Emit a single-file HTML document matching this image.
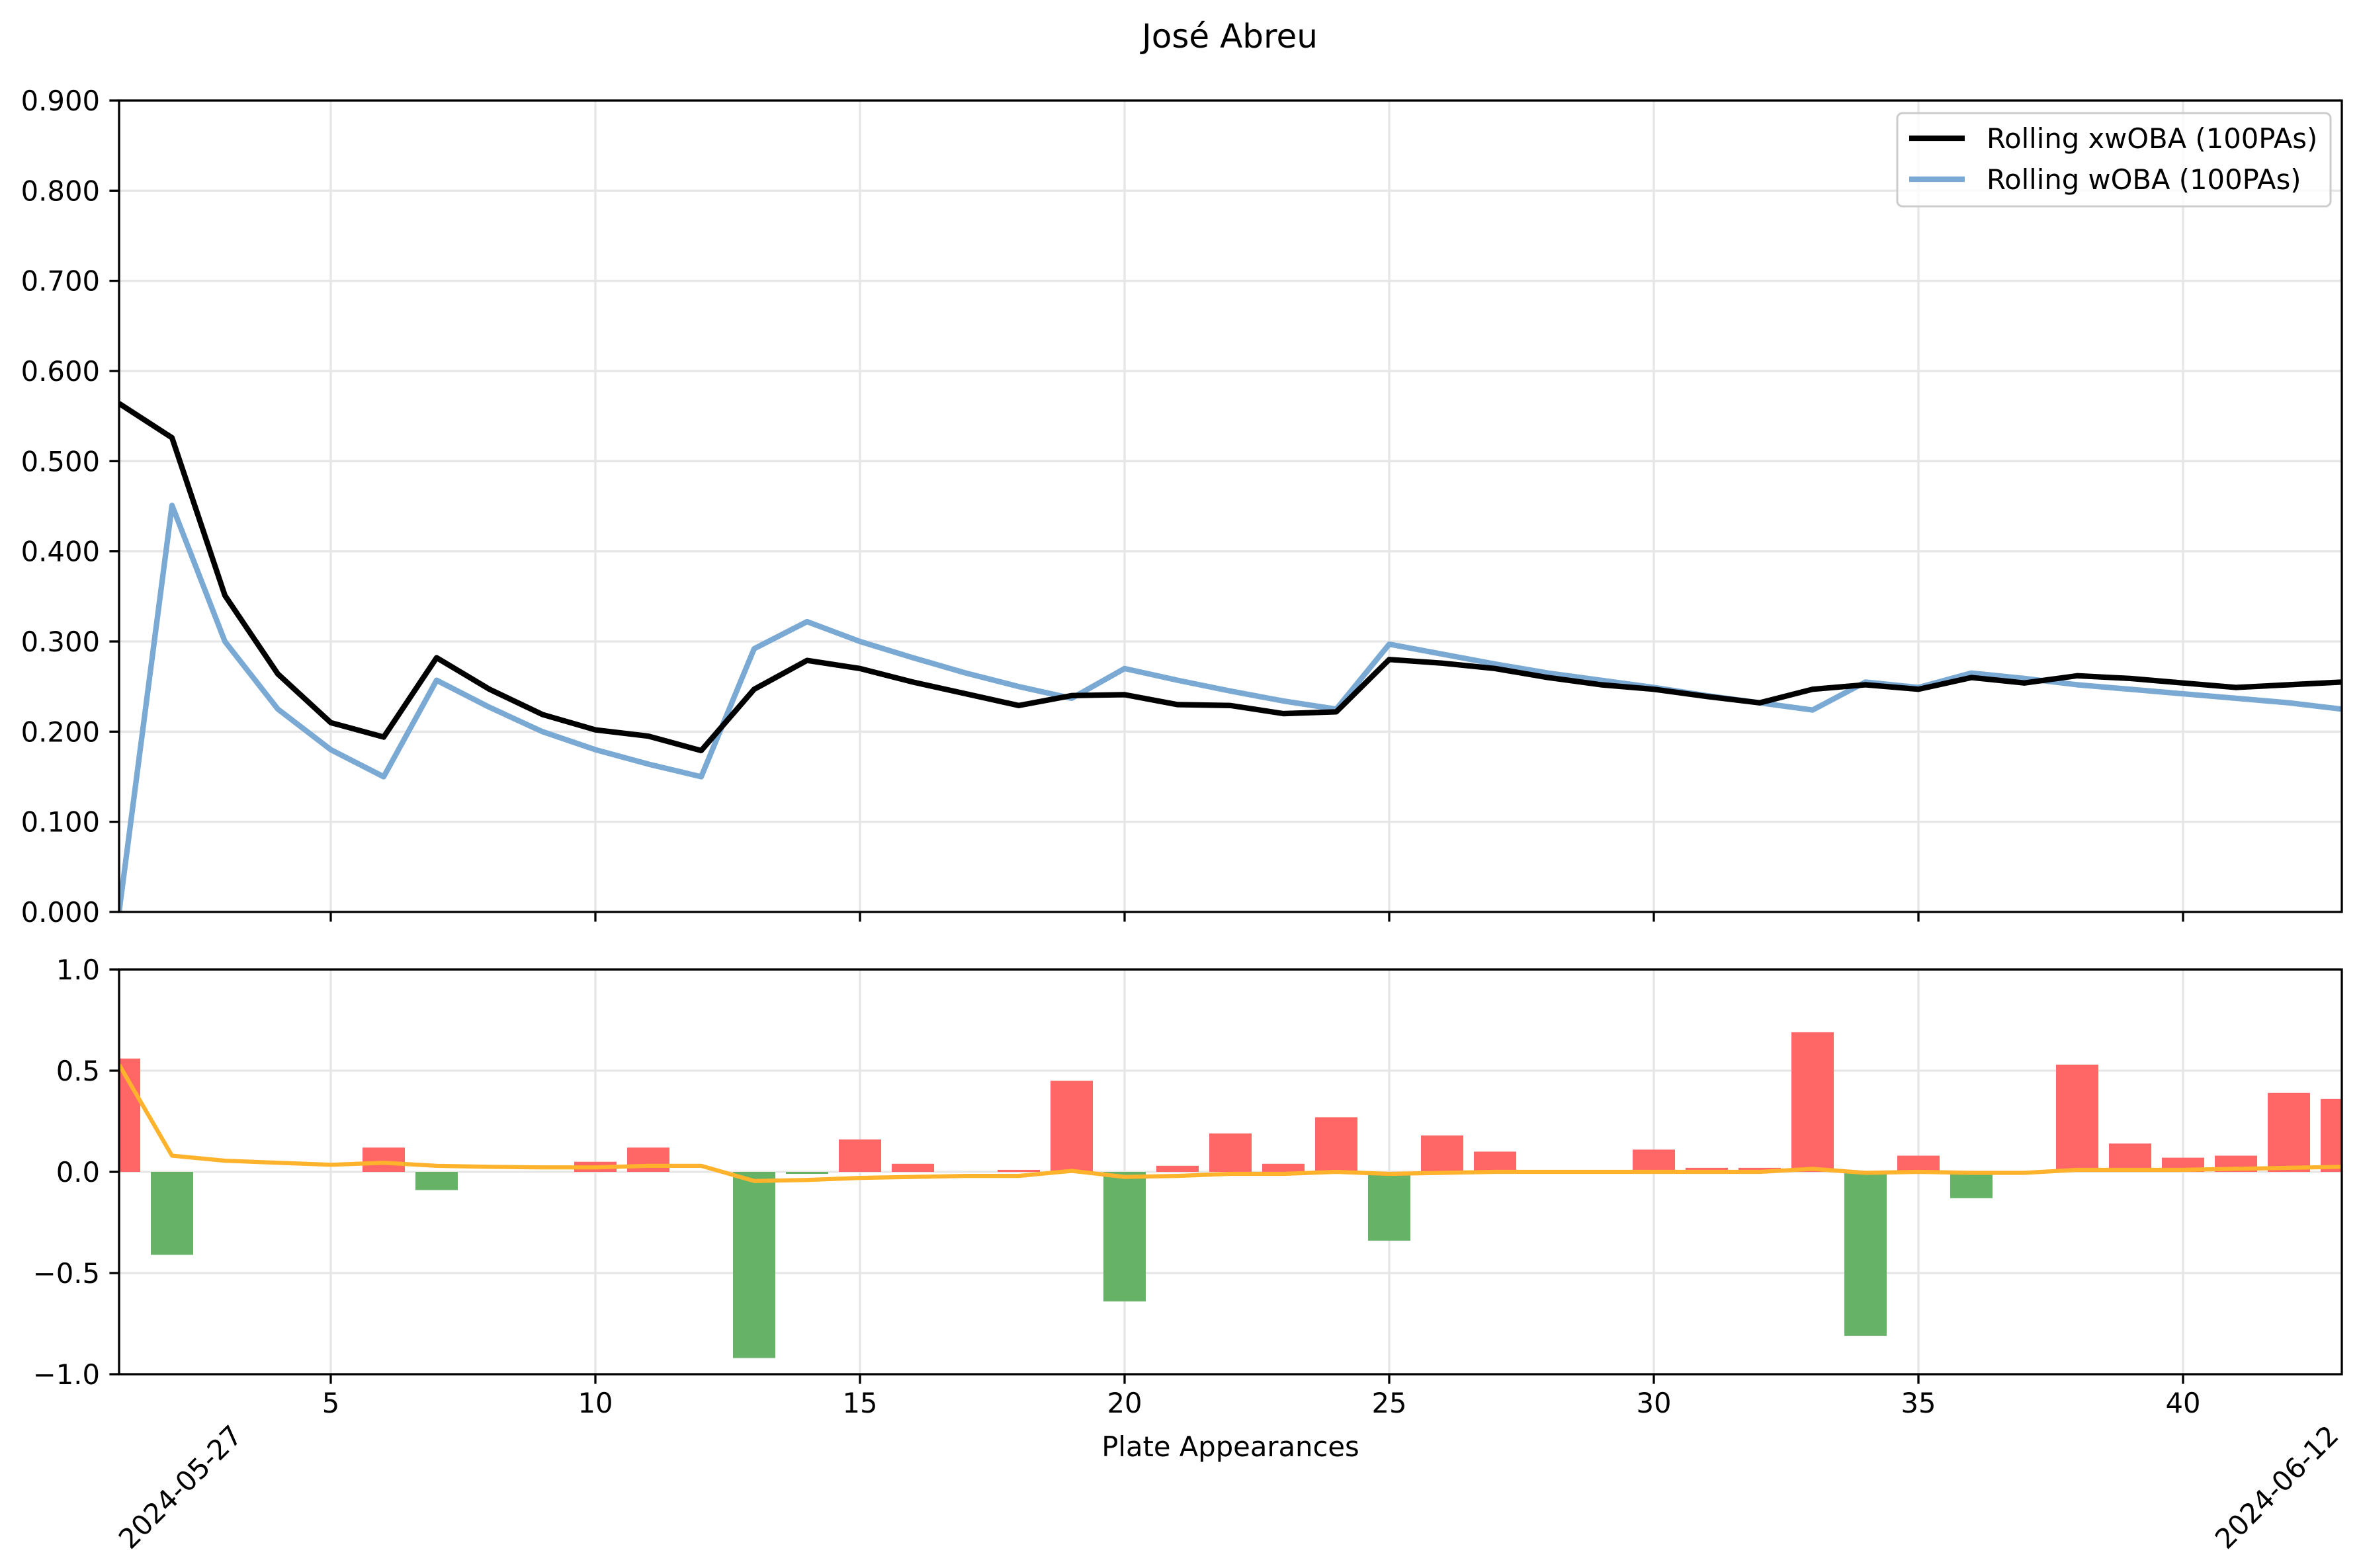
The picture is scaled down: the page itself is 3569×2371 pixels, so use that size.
<!DOCTYPE html>
<html><head><meta charset="utf-8"><style>html,body{margin:0;padding:0;background:#fff}svg{display:block}text{font-family:"DejaVu Sans","Liberation Sans",sans-serif;fill:#000}</style></head>
<body>
<svg id="chart" width="3569" height="2371" viewBox="0 0 3569 2371" xmlns="http://www.w3.org/2000/svg">
<rect width="3569" height="2371" fill="#fff"/>
<text x="1859" y="72" font-size="50" text-anchor="middle">José Abreu</text>
<g id="topG"></g><g id="botG"></g>
<text x="1860" y="2202" font-size="41.7" text-anchor="middle">Plate Appearances</text>
<text x="273" y="2263" font-size="41.7" text-anchor="middle" transform="rotate(-45 273 2249)">2024-05-27</text>
<text x="3442" y="2263" font-size="41.7" text-anchor="middle" transform="rotate(-45 3442 2249)">2024-06-12</text>
<g>
<rect x="2868" y="171" width="655" height="141" rx="8" fill="#fff" fill-opacity="0.8" stroke="#ccc" stroke-width="3"/>
<line x1="2886" y1="209" x2="2970" y2="209" stroke="#000" stroke-width="8.3"/>
<text x="3003" y="224" font-size="41.7">Rolling xwOBA (100PAs)</text>
<line x1="2886" y1="271" x2="2970" y2="271" stroke="#7aa9d4" stroke-width="8.3"/>
<text x="3003" y="286" font-size="41.7">Rolling wOBA (100PAs)</text>
</g>
</svg>
<script>
const pas = Array.from({length:43},(_,i)=>i+1);
const xwoba = [0.564,0.526,0.351,0.264,0.210,0.194,0.282,0.247,0.219,0.202,0.195,0.179,0.247,0.279,0.270,0.255,0.242,0.229,0.240,0.241,0.230,0.229,0.220,0.222,0.280,0.276,0.270,0.260,0.252,0.247,0.239,0.232,0.247,0.252,0.247,0.260,0.254,0.262,0.259,0.254,0.249,0.252,0.255];
const woba = [0.000,0.451,0.300,0.225,0.180,0.150,0.257,0.227,0.200,0.180,0.164,0.150,0.292,0.322,0.300,0.282,0.265,0.250,0.237,0.270,0.257,0.245,0.234,0.225,0.297,0.286,0.275,0.265,0.257,0.249,0.240,0.232,0.224,0.255,0.249,0.265,0.259,0.252,0.247,0.242,0.237,0.232,0.225];
const diffs = [0.56,-0.41,0,0,0,0.12,-0.09,0,0,0.05,0.12,0,-0.92,-0.01,0.16,0.04,0,0.01,0.45,-0.64,0.03,0.19,0.04,0.27,-0.34,0.18,0.10,0,0,0.11,0.02,0.02,0.69,-0.81,0.08,-0.13,0,0.53,0.14,0.07,0.08,0.39,0.36];
const trend = [0.53,0.08,0.055,0.045,0.035,0.045,0.03,0.025,0.022,0.022,0.03,0.03,-0.045,-0.04,-0.03,-0.025,-0.02,-0.02,0.005,-0.025,-0.02,-0.01,-0.01,0,-0.01,-0.005,0,0,0,0,0,0,0.015,-0.005,0,-0.005,-0.005,0.01,0.01,0.01,0.015,0.02,0.025];
const xTicks = [5,10,15,20,25,30,35,40];
const topTicks = [0,0.1,0.2,0.3,0.4,0.5,0.6,0.7,0.8,0.9];
const botTicks = [-1,-0.5,0,0.5,1];
const botTickLabels = ["\u22121.0","\u22120.5","0.0","0.5","1.0"];

const NS="http://www.w3.org/2000/svg";
const L=180,R=3540,T1=152,B1=1379,T2=1466,B2=2078;
const FS=41.7, TL=14.6, SW=3.3, GW=3.3;
const X=v=>L+(v-1)/(42)*(R-L);
const Y1=v=>B1-v/0.9*(B1-T1);
const Y2=v=>T2+(1-v)/2*(B2-T2);
function mk(p,tag,a){const e=document.createElementNS(NS,tag);for(const k in a)e.setAttribute(k,a[k]);p.appendChild(e);return e;}
const topG=document.getElementById('topG'),botG=document.getElementById('botG');
const cp=mk(document.getElementById('chart'),'defs',{});
const c1=mk(cp,'clipPath',{id:'c1'});mk(c1,'rect',{x:L,y:T1,width:R-L,height:B1-T1});
const c2=mk(cp,'clipPath',{id:'c2'});mk(c2,'rect',{x:L,y:T2,width:R-L,height:B2-T2});
xTicks.forEach(t=>{
 let g=mk(topG,'line',{x1:X(t),x2:X(t),y1:T1,y2:B1,stroke:'#e6e6e6','stroke-width':GW});
 
 
 g=mk(botG,'line',{x1:X(t),x2:X(t),y1:T2,y2:B2,stroke:'#e6e6e6','stroke-width':GW});
 
 
 let tk=mk(topG,'line',{x1:X(t),x2:X(t),y1:B1,y2:B1+TL,stroke:'#000','stroke-width':SW});
 
 
 tk=mk(botG,'line',{x1:X(t),x2:X(t),y1:B2,y2:B2+TL,stroke:'#000','stroke-width':SW});
 
 
 const tx=mk(botG,'text',{x:X(t),y:B2+58,'font-size':FS,'text-anchor':'middle'});tx.textContent=t;
 
 
});
topTicks.forEach(t=>{
 const g=mk(topG,'line',{x1:L,x2:R,y1:Y1(t),y2:Y1(t),stroke:'#e6e6e6','stroke-width':GW});
 
 
 const tk=mk(topG,'line',{x1:L-TL,x2:L,y1:Y1(t),y2:Y1(t),stroke:'#000','stroke-width':SW});
 
 
 const tx=mk(topG,'text',{x:L-29,y:Y1(t)+15,'font-size':FS,'text-anchor':'end'});tx.textContent=t.toFixed(3);
 
 
});
botTicks.forEach((t,i)=>{
 const g=mk(botG,'line',{x1:L,x2:R,y1:Y2(t),y2:Y2(t),stroke:'#e6e6e6','stroke-width':GW});
 
 
 const tk=mk(botG,'line',{x1:L-TL,x2:L,y1:Y2(t),y2:Y2(t),stroke:'#000','stroke-width':SW});
 
 
 const tx=mk(botG,'text',{x:L-29,y:Y2(t)+15,'font-size':FS,'text-anchor':'end'});tx.textContent=botTickLabels[i];
 
 
});
const bl=mk(topG,'polyline',{points:pas.map((p,i)=>X(p)+','+Y1(woba[i])).join(' '),fill:'none',stroke:'#7aa9d4','stroke-width':8.3,'stroke-linejoin':'round','clip-path':'url(#c1)'});


const kl=mk(topG,'polyline',{points:pas.map((p,i)=>X(p)+','+Y1(xwoba[i])).join(' '),fill:'none',stroke:'#000','stroke-width':8.3,'stroke-linejoin':'round','clip-path':'url(#c1)'});


const bw=0.8*(X(2)-X(1));
diffs.forEach((d,i)=>{
 if(d===0)return;
 const y0=Y2(0),y=Y2(d);
 const r=mk(botG,'rect',{x:X(pas[i])-bw/2,y:Math.min(y0,y),width:bw,height:Math.abs(y-y0),fill:d>0?'#ff6666':'#66b266','clip-path':'url(#c2)'});
 
 
});
const ol=mk(botG,'polyline',{points:pas.map((p,i)=>X(p)+','+Y2(trend[i])).join(' '),fill:'none',stroke:'#ffb22b','stroke-width':6.25,'stroke-linejoin':'round','clip-path':'url(#c2)'});


const f1=mk(topG,'rect',{x:L,y:T1,width:R-L,height:B1-T1,fill:'none',stroke:'#000','stroke-width':SW});


const f2=mk(botG,'rect',{x:L,y:T2,width:R-L,height:B2-T2,fill:'none',stroke:'#000','stroke-width':SW});


</script>
</body></html>
